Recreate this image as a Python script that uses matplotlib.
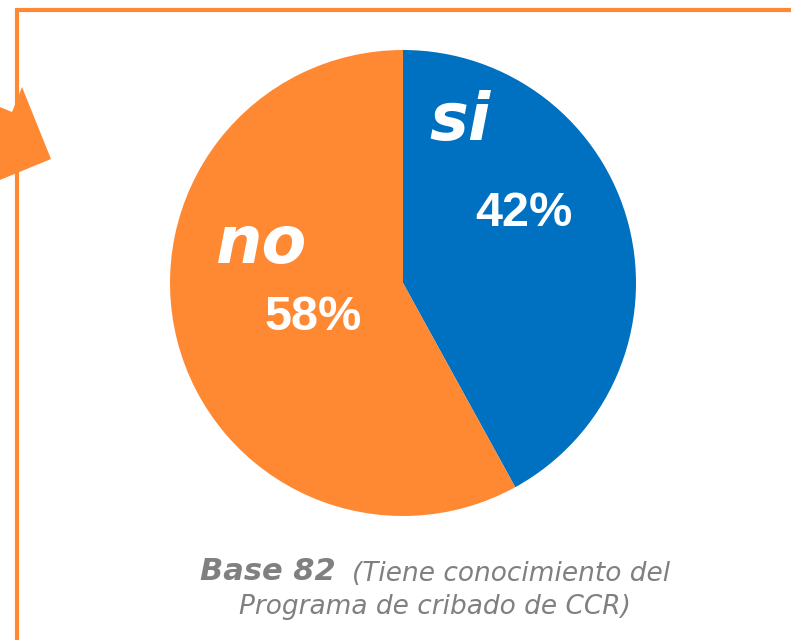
import numpy as np
import matplotlib
matplotlib.use("Agg")
import matplotlib.pyplot as plt
from matplotlib.patches import Polygon

# datos
labels = ["si", "no"]
values = [42, 58]
colors = ["#0070C0", "#FF8833"]
pct_text = ["42%", "58%"]
base_bold = "Base 82"
base_rest = "(Tiene conocimiento del"
base_line2 = "Programa de cribado de CCR)"

W, H = 791, 640
fig = plt.figure(figsize=(W / 100, H / 100), dpi=100)

# capa de fondo en pixeles (marco, flecha, texto)
bg = fig.add_axes([0, 0, 1, 1])
bg.set_xlim(0, W)
bg.set_ylim(H, 0)
bg.axis("off")

orange = "#FF8833"
bg.plot([17, 17, W + 5], [H + 5, 10, 10], color=orange, linewidth=3,
        solid_joinstyle="miter")
arrow = Polygon([(-5, 105), (12, 112), (22, 87), (51, 159), (-5, 182)],
                closed=True, color=orange, linewidth=0)
bg.add_patch(arrow)

grey = "#808080"
bg.text(200, 572, base_bold, fontsize=22, fontweight="bold",
        fontstyle="italic", color=grey, va="center", ha="left",
        family="DejaVu Sans")
bg.text(352, 574, base_rest, fontsize=19, fontstyle="italic", color=grey,
        va="center", ha="left", family="DejaVu Sans")
bg.text(435, 607, base_line2, fontsize=19, fontstyle="italic", color=grey,
        va="center", ha="center", family="DejaVu Sans")

# tarta
cx, cy, r = 403, 283, 233
ax = fig.add_axes([(cx - r) / W, (H - cy - r) / H, 2 * r / W, 2 * r / H])
ax.pie(values, colors=colors, startangle=90, counterclock=False,
       radius=1, wedgeprops=dict(linewidth=0))
ax.set_xlim(-1, 1)
ax.set_ylim(-1, 1)
ax.set_aspect("equal")
ax.axis("off")

name_pos = [(0.245, 0.69), (-0.605, 0.165)]
pct_pos = [(0.52, 0.30), (-0.385, -0.15)]
for i in range(len(labels)):
    ax.text(name_pos[i][0], name_pos[i][1], labels[i], color="white",
            fontsize=47, fontweight="bold", fontstyle="italic",
            ha="center", va="center", family="DejaVu Sans")
    ax.text(pct_pos[i][0], pct_pos[i][1], pct_text[i], color="white",
            fontsize=35, fontweight="bold", ha="center", va="center",
            family="Liberation Sans")

fig.savefig("out.png", dpi=100)
